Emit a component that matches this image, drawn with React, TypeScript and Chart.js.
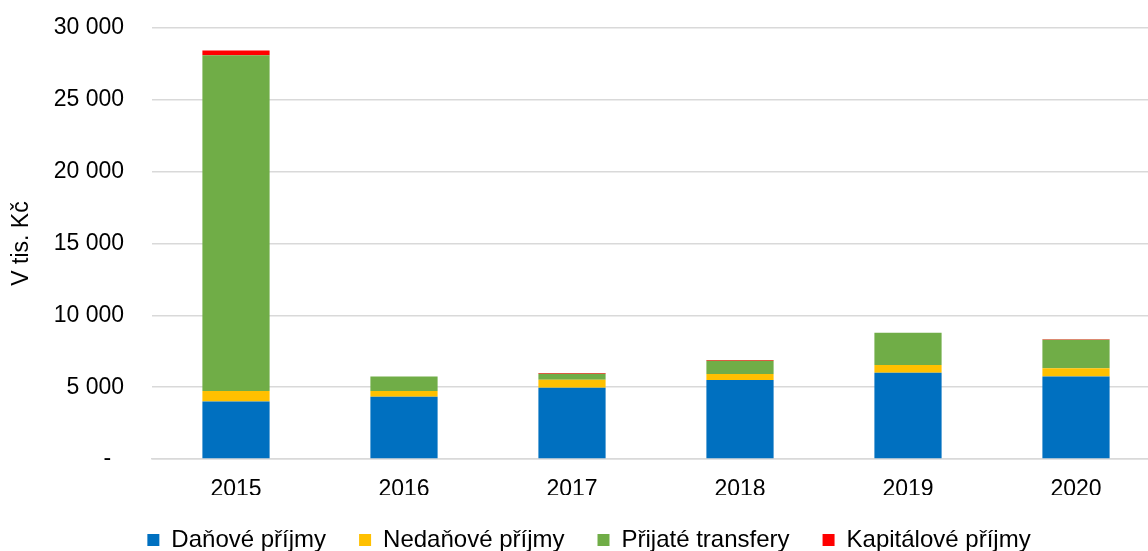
import React, { useEffect, useRef } from "react";
import { Chart, registerables } from "chart.js";
Chart.register(...registerables);

const years = ["2015", "2016", "2017", "2018", "2019", "2020"];
const danove = [4000, 4340, 4960, 5500, 6010, 5750];
const nedanove = [730, 390, 560, 420, 530, 560];
const transfery = [23370, 1020, 420, 920, 2250, 1990];
const kapitalove = [340, 0, 40, 50, 0, 30];

const seriesNames = ["Daňové příjmy", "Nedaňové příjmy", "Přijaté transfery", "Kapitálové příjmy"];
const seriesColors = ["#0070C0", "#FFC000", "#70AD47", "#FF0000"];

const FONT = "'Liberation Sans', Arial, sans-serif";
const FS = 23;

function fmt(v: number): string {
  if (v === 0) return "-  ";
  return String(v).replace(/\B(?=(\d{3})+(?!\d))/g, " ");
}

export default function App() {
  const ref = useRef<HTMLCanvasElement>(null);
  useEffect(() => {
    const values = [danove, nedanove, transfery, kapitalove];
    const chart = new Chart(ref.current!, {
      type: "bar",
      data: {
        labels: years,
        datasets: values.map((d, i) => ({
          label: seriesNames[i],
          data: d,
          backgroundColor: seriesColors[i],
          borderWidth: 0,
          categoryPercentage: 0.4,
          barPercentage: 1,
        })),
      },
      options: {
        animation: false,
        responsive: false,
        maintainAspectRatio: false,
        layout: { padding: { top: 28, left: 18, right: 0, bottom: 0 } },
        plugins: {
          legend: {
            position: "bottom",
            labels: {
              boxWidth: 12,
              boxHeight: 12,
              padding: 33,
              color: "#000",
              font: { family: FONT, size: 24 },
            },
          },
          tooltip: { enabled: false },
        },
        scales: {
          x: {
            stacked: true,
            grid: { display: false, drawTicks: false },
            border: { color: "#d9d9d9", width: 1.5 },
            ticks: { color: "#000", padding: 17, font: { family: FONT, size: FS } },
            afterFit: (s: any) => {
              s.height = 36;
            },
          },
          y: {
            stacked: true,
            min: 0,
            max: 30000,
            grid: { color: "#d9d9d9", lineWidth: 1.5, drawTicks: false },
            border: { display: false },
            ticks: {
              stepSize: 5000,
              padding: 28,
              color: "#000",
              font: { family: FONT, size: FS },
              callback: (v: any) => fmt(Number(v)),
            },
            title: {
              display: true,
              text: "V tis. Kč",
              color: "#000",
              font: { family: FONT, size: FS },
              padding: { top: -10, bottom: 0 },
            },
            afterFit: (s: any) => {
              s.width = 134;
              s.paddingTop = 0;
              s.paddingBottom = 0;
            },
          },
        },
      },
    });
    return () => chart.destroy();
  }, []);
  return (
    <div style={{ position: "fixed", left: 0, top: 0, width: 1148, height: 551, overflow: "hidden", background: "#fff" }}>
      <canvas ref={ref} width={1160} height={562} style={{ width: 1160, height: 562, display: "block" }} />
    </div>
  );
}
